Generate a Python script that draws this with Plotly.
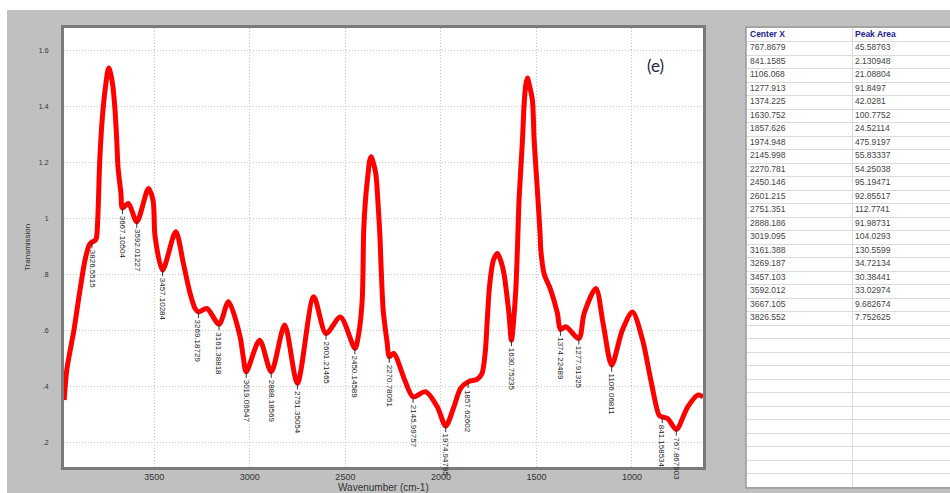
import numpy as np
import plotly.graph_objects as go

# FTIR transmission spectrum (wavenumber in cm-1, descending)
wavenumber = [3972, 3958, 3921, 3890, 3863, 3840, 3826.6, 3810, 3803, 3796, 3785, 3769,
              3752, 3744, 3738, 3732, 3717, 3706, 3697, 3690, 3675, 3667.1, 3636, 3592.0,
              3531, 3507, 3496, 3457.1, 3388, 3348, 3313, 3287, 3269.2, 3225, 3161.4, 3112,
              3051, 3035, 3019.1, 2949, 2888.2, 2818, 2751.4, 2666, 2601.2, 2526, 2450.1,
              2430, 2412, 2404, 2395, 2381, 2373, 2365, 2357, 2341, 2328, 2320, 2302, 2281,
              2270.8, 2247, 2189, 2146.0, 2080, 2019, 1974.9, 1932, 1897, 1857.6, 1809, 1785,
              1768, 1757, 1745, 1725, 1704, 1683, 1670, 1644, 1630.8, 1609, 1598, 1591, 1573,
              1565, 1556, 1547, 1537, 1521, 1512, 1495, 1481, 1477, 1460, 1425, 1390, 1374.2,
              1346, 1277.9, 1250, 1189, 1150, 1106.1, 1050, 997, 944, 901, 857, 841.2, 813,
              767.9, 708, 656, 628]
transmission = [0.35, 0.46, 0.60, 0.74, 0.85, 0.905, 0.915, 0.92, 0.93, 1.00, 1.218, 1.386,
                1.49, 1.525, 1.536, 1.525, 1.47, 1.386, 1.28, 1.18, 1.09, 1.036, 1.052, 0.987,
                1.106, 1.064, 0.933, 0.814, 0.951, 0.838, 0.731, 0.677, 0.665, 0.677, 0.621, 0.701,
                0.576, 0.505, 0.451, 0.564, 0.451, 0.618, 0.410, 0.719, 0.588, 0.647, 0.535,
                0.588, 0.707, 0.957, 1.064, 1.16, 1.205, 1.219, 1.205, 1.16, 1.04, 0.946, 0.671,
                0.553, 0.505, 0.517, 0.421, 0.362, 0.380, 0.326, 0.257, 0.326, 0.392, 0.415, 0.425,
                0.445, 0.52, 0.64, 0.76, 0.85, 0.874, 0.84, 0.802, 0.66, 0.564, 0.731, 0.921, 1.064,
                1.279, 1.398, 1.475, 1.50, 1.475, 1.421, 1.279, 1.10, 0.946, 0.886, 0.802, 0.743,
                0.66, 0.602, 0.612, 0.570, 0.66, 0.749, 0.62, 0.475, 0.60, 0.665, 0.564, 0.421,
                0.295, 0.290, 0.284, 0.245, 0.326, 0.368, 0.362]

# Fitted peak table
center_x = ["767.8679", "841.1585", "1106.068", "1277.913", "1374.225", "1630.752", "1857.626",
            "1974.948", "2145.998", "2270.781", "2450.146", "2601.215", "2751.351", "2888.186",
            "3019.095", "3161.388", "3269.187", "3457.103", "3592.012", "3667.105", "3826.552"]
peak_area = ["45.58763", "2.130948", "21.08804", "91.8497", "42.0281", "100.7752", "24.52114",
             "475.9197", "55.83337", "54.25038", "95.19471", "92.85517", "112.7741", "91.98731",
             "104.0293", "130.5599", "34.72134", "30.38441", "33.02974", "9.682674", "7.752625"]
table_header = ["Center X", "Peak Area"]

# Peak marker labels on the spectrum
peak_labels = ["767.867903", "841.158534", "1106.06811", "1277.91325", "1374.22489", "1630.75235",
               "1857.62602", "1974.94795", "2145.99757", "2270.78051", "2450.14589", "2601.21465",
               "2751.35054", "2888.18569", "3019.09547", "3161.38818", "3269.18729", "3457.10284",
               "3592.01227", "3667.10504", "3826.5515"]

x_ticks = [3500, 3000, 2500, 2000, 1500, 1000]
y_ticks = [0.2, 0.4, 0.6, 0.8, 1.0, 1.2, 1.4, 1.6]
y_tick_text = [".2", ".4", ".6", ".8", "1", "1.2", "1.4", "1.6"]

W, H = 950, 493
PX0, PX1, PY0, PY1 = 64, 703, 28, 467   # spectrum plot area in pixels
TX0, TY0, TY1 = 746, 28, 487            # peak table area in pixels
N_BLANK = 12
COL_SPLIT = 106                         # first column width in pixels

FONT = "Liberation Sans, Arial, sans-serif"


def px(v):
    return v / W


def py(v):
    return 1 - v / H


fig = go.Figure()
fig.add_trace(go.Scatter(
    x=wavenumber, y=transmission, mode="lines",
    line=dict(color="#ff0000", width=5, shape="spline", smoothing=0.8),
    hoverinfo="skip", showlegend=False,
))

# Peak table drawn on its own axes: x in pixels from the table's left edge, y in rows
n_rows = 1 + len(center_x) + N_BLANK
row_y = [i + 0.5 for i in range(n_rows)]
col1 = [f"<b>{table_header[0]}</b>"] + center_x + [""] * N_BLANK
col2 = [f"<b>{table_header[1]}</b>"] + peak_area + [""] * N_BLANK
colors = ["#1c1c8c"] + ["#444444"] * (n_rows - 1)
for xoff, col in ((4, col1), (COL_SPLIT + 3, col2)):
    fig.add_trace(go.Scatter(
        x=[xoff] * n_rows, y=row_y, text=col, mode="text", textposition="middle right",
        textfont=dict(family=FONT, size=8.5, color=colors),
        xaxis="x2", yaxis="y2", hoverinfo="skip", showlegend=False,
    ))

# Peak labels with short leader lines below each fitted peak
wn_asc = np.array(wavenumber[::-1], dtype=float)
tr_asc = np.array(transmission[::-1], dtype=float)
annotations = []
for cx, lab in zip(center_x, peak_labels):
    xv = float(cx)
    yv = float(np.interp(xv, wn_asc, tr_asc))
    text_len = (len(lab) - 1) * 4.45 + 2.2
    annotations.append(dict(
        x=xv, y=yv, xref="x", yref="y", text=lab, textangle=90,
        showarrow=True, arrowhead=0, arrowwidth=1, arrowcolor="#333333",
        ax=0, ay=8 + text_len / 2, standoff=0,
        font=dict(family=FONT, size=8, color="#222222"),
    ))

annotations += [
    dict(x=px(655), y=py(65), xref="paper", yref="paper", text="(e)", showarrow=False,
         xanchor="center", yanchor="middle",
         font=dict(family="Lato, Open Sans, sans-serif", size=17, color="#1f2a44")),
    dict(x=px(27), y=py(248), xref="paper", yref="paper", text="Transmission", textangle=-90,
         showarrow=False, xanchor="center", yanchor="middle",
         font=dict(family=FONT, size=8, color="#333333")),
    dict(x=px(383), y=py(487), xref="paper", yref="paper", text="Wavenumber (cm-1)",
         showarrow=False, xanchor="center", yanchor="middle",
         font=dict(family=FONT, size=10, color="#333333")),
]

shapes = [
    # white strips outside the grey panel
    dict(type="rect", xref="paper", yref="paper", x0=0, x1=1, y0=py(10), y1=1,
         fillcolor="white", line=dict(width=0), layer="below"),
    dict(type="rect", xref="paper", yref="paper", x0=0, x1=px(7), y0=0, y1=1,
         fillcolor="white", line=dict(width=0), layer="below"),
    # table frame
    dict(type="rect", xref="paper", yref="paper", x0=px(TX0), x1=px(952), y0=py(TY1 + 1),
         y1=py(TY0 - 1), fillcolor="rgba(0,0,0,0)", line=dict(color="#9a9a9a", width=1.5)),
]

table_w = W - TX0
fig.update_layout(
    width=W, height=H,
    margin=dict(l=0, r=0, t=0, b=0),
    paper_bgcolor="#c0c0c0", plot_bgcolor="white",
    annotations=annotations, shapes=shapes,
    xaxis=dict(domain=[px(PX0), px(PX1)], range=[3973, 628], tickvals=x_ticks,
               showgrid=True, gridcolor="#c4c4c4", griddash="1px,2px", gridwidth=1,
               showline=True, mirror=True, linecolor="#7a7a7a", linewidth=3,
               ticks="", ticklabelstandoff=-1, zeroline=False, automargin=False,
               tickfont=dict(family=FONT, size=9, color="#333333")),
    yaxis=dict(domain=[py(PY1), py(PY0)], range=[0.111, 1.679], tickvals=y_ticks,
               ticktext=y_tick_text,
               showgrid=True, gridcolor="#c4c4c4", griddash="1px,2px", gridwidth=1,
               showline=True, mirror=True, linecolor="#7a7a7a", linewidth=3,
               ticks="", ticklabelstandoff=11, zeroline=False, automargin=False,
               tickfont=dict(family=FONT, size=7, color="#333333")),
    xaxis2=dict(domain=[px(TX0), 1], range=[0, table_w], anchor="y2",
                tickvals=[COL_SPLIT], showticklabels=False, showgrid=True,
                gridcolor="#dadada", gridwidth=1, zeroline=False, fixedrange=True),
    yaxis2=dict(domain=[py(TY1), py(TY0)], range=[n_rows, 0], anchor="x2",
                tickvals=list(range(n_rows + 1)), showticklabels=False, showgrid=True,
                gridcolor="#dadada", gridwidth=1, zeroline=False, fixedrange=True),
)
fig.add_shape(type="rect", xref="x2 domain", yref="y2 domain", x0=0, x1=1, y0=0, y1=1,
              fillcolor="white", line=dict(width=0), layer="below")

fig.write_html("out.html")
